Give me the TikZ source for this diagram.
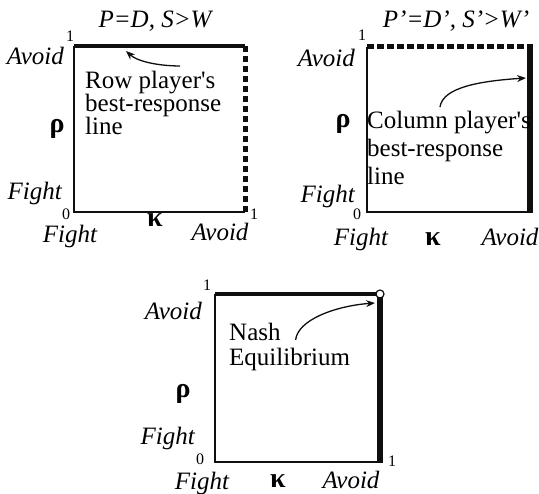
\documentclass[tikz,border=0pt]{standalone}
\usepackage{fontspec}
\setmainfont{Liberation Serif}
\usepackage{tikz}
\usetikzlibrary{arrows.meta, calc}
\definecolor{myink}{RGB}{15,15,15}
\tikzset{
  axisline/.style={line width=1.2pt, color=myink},
  brsolid/.style={line width=4.5pt, color=myink},
  brthick/.style={line width=6pt, color=myink},
  brdashed/.style={line width=5pt, color=myink, dash pattern=on 6.5pt off 3.5pt},
  strat/.style={font=\fontsize{25}{25}\selectfont\itshape, inner sep=0pt},
  ptitle/.style={font=\fontsize{25}{25}\selectfont\itshape, inner sep=0pt, anchor=base},
  tick/.style={font=\fontsize{16}{16}\selectfont, inner sep=0pt},
  greek/.style={font=\fontsize{28}{28}\selectfont\bfseries, inner sep=0pt, anchor=base},
  note/.style={font=\fontsize{25}{23}\selectfont, align=left, anchor=north west, inner sep=0pt},
  arrow/.style={-{Stealth[length=9pt, width=7pt]}, line width=1.3pt, color=myink}
}

\begin{document}
\begin{tikzpicture}[x=1pt, y=1pt]
  \useasboundingbox (0,0) rectangle (539,494);

  % row player
  \coordinate (p1sw) at (74,282);
  \coordinate (p1se) at (245,282);
  \coordinate (p1nw) at (74,448);
  \coordinate (p1ne) at (245,448);
  \coordinate (p1tip) at (126,443);
  \draw[axisline] (p1nw) -- (p1sw) -- (p1se);
  \draw[brsolid] (p1nw) -- (p1ne);
  \draw[brdashed] (p1ne) -- (p1se);
  \node[ptitle] (p1title) at (155,466) {P=D, S>W};
  \node[tick] (p1one) at (70,458) {1};
  \node[tick] (p1zero) at (66,280) {0};
  \node[tick] (p1onex) at (254,280) {1};
  \node[strat, anchor=base east] (p1avy) at (64,429) {Avoid};
  \node[strat, anchor=base east] (p1fiy) at (62,294) {Fight};
  \node[strat, anchor=base] (p1fix) at (70,251) {Fight};
  \node[strat, anchor=base] (p1avx) at (220,253) {Avoid};
  \node[greek] (p1rho) at (57,361) {ρ};
  \node[greek] (p1kappa) at (155,267) {κ};
  \node[note] (rownote) at (85,423) {Row player\textquotesingle s\\best-response\\line};
  \draw[arrow] ($(rownote.north)+(27,5)$) .. controls +(-20,0) and +(12,-11) .. (p1tip);

  % column player
  \coordinate (p2sw) at (367,282);
  \coordinate (p2se) at (530,282);
  \coordinate (p2nw) at (367,447);
  \coordinate (p2ne) at (530,447);
  \coordinate (p2tip) at (526,416);
  \draw[axisline] (p2nw) -- (p2sw) -- (p2se);
  \draw[brdashed] (p2nw) -- (p2ne);
  \draw[brthick] ($(p2se)+(0,-1)$) -- ($(p2ne)+(0,3)$);
  \node[ptitle] (p2title) at (456,466) {P'=D', S'>W'};
  \node[tick] (p2one) at (362,459) {1};
  \node[tick] (p2zero) at (357,280) {0};
  \node[strat, anchor=base east] (p2avy) at (355,427) {Avoid};
  \node[strat, anchor=base east] (p2fiy) at (355,291) {Fight};
  \node[strat, anchor=base] (p2fix) at (361,248) {Fight};
  \node[strat, anchor=base] (p2avx) at (510,248) {Avoid};
  \node[greek] (p2rho) at (343,366) {ρ};
  \node[greek] (p2kappa) at (433,248) {κ};
  \node[note, font=\fontsize{25}{28}\selectfont] (colnote) at (367,383) {Column player\textquotesingle s\\best-response\\line};
  \draw[arrow] ($(colnote.north)+(-9,4)$) .. controls +(3,20) and +(-45,-3) .. (p2tip);

  % both players
  \coordinate (p3sw) at (215,32);
  \coordinate (p3se) at (380,32);
  \coordinate (p3nw) at (215,200);
  \coordinate (p3ne) at (380,200);
  \coordinate (p3tip) at (375,191);
  \draw[axisline] (p3nw) -- (p3sw) -- (p3se);
  \draw[brsolid] (p3nw) -- (p3ne);
  \draw[brthick] ($(p3se)+(0,-1)$) -- (p3ne);
  \node[circle, draw=myink, fill=white, line width=1.2pt, inner sep=0pt, minimum size=8pt] (nasheq) at (p3ne) {};
  \node[tick] (p3one) at (207,209) {1};
  \node[tick] (p3zero) at (200,35) {0};
  \node[tick] (p3onex) at (392,33) {1};
  \node[strat, anchor=base east] (p3avy) at (202,174) {Avoid};
  \node[strat, anchor=base east] (p3fiy) at (195,49) {Fight};
  \node[strat, anchor=base] (p3fix) at (202,4) {Fight};
  \node[strat, anchor=base] (p3avx) at (351,5) {Avoid};
  \node[greek] (p3rho) at (183,96) {ρ};
  \node[greek] (p3kappa) at (278,6) {κ};
  \node[note, font=\fontsize{25}{25}\selectfont] (nashnote) at (229,171) {Nash\\Equilibrium};
  \draw[arrow] ($(nashnote.north)+(6,-17)$) .. controls +(2,20) and +(-40,-3) .. (p3tip);
\end{tikzpicture}
\end{document}
